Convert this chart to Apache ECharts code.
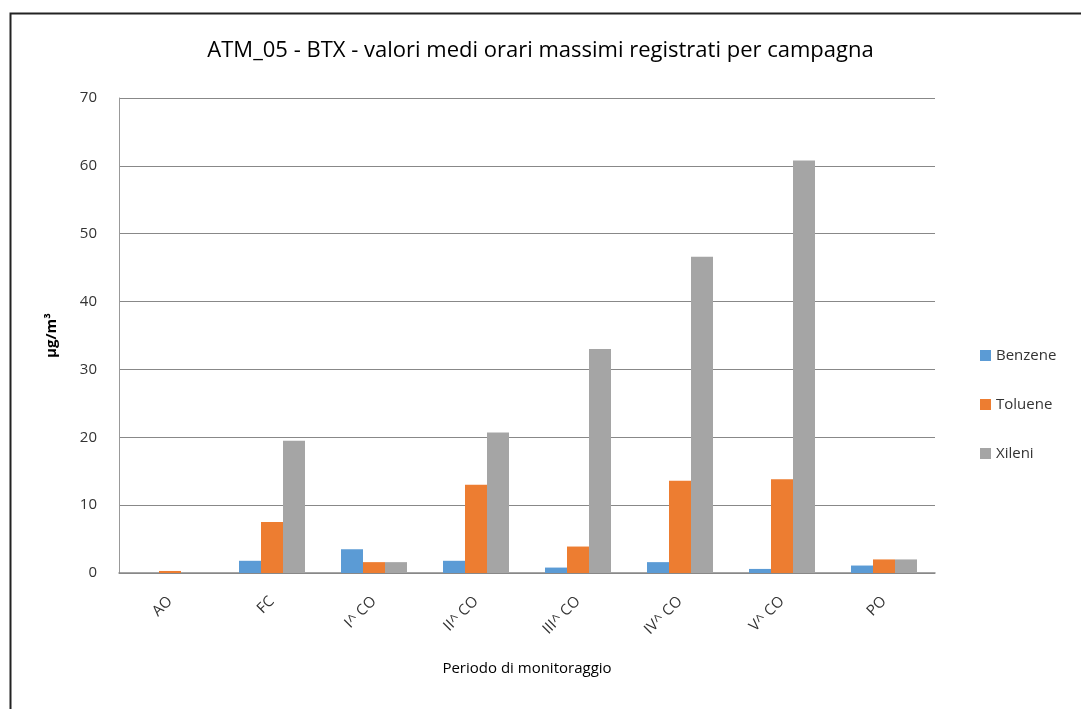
<!DOCTYPE html>
<html>
<head>
<meta charset="utf-8">
<script src="https://cdn.jsdelivr.net/npm/echarts@6/dist/echarts.min.js"></script>
<style>
  html, body { margin: 0; padding: 0; background: #fff; }
  #chart { width: 1081px; height: 709px; }
</style>
</head>
<body>
<div id="chart"></div>
<script>
// categorie (periodi di monitoraggio)
var categories = ['AO', 'FC', 'I^ CO', 'II^ CO', 'III^ CO', 'IV^ CO', 'V^ CO', 'PO'];
// valori, µg/m3
var benzene = [0, 1.8, 3.5, 1.8, 0.8, 1.6, 0.6, 1.1];
var toluene = [0.3, 7.5, 1.6, 13.0, 3.9, 13.6, 13.8, 2.0];
var xileni = [0, 19.5, 1.6, 20.7, 33.0, 46.6, 60.8, 2.0];
var yTicks = [0, 10, 20, 30, 40, 50, 60, 70];

var font = 'Open Sans';
var chart = echarts.init(document.getElementById('chart'));

chart.setOption({
    animation: false,
    textStyle: { fontFamily: font },
    title: {
        text: 'ATM_05 - BTX - valori medi orari massimi registrati per campagna',
        left: 'center',
        top: 35,
        textStyle: { fontSize: 22, fontWeight: 'normal', color: '#000', fontFamily: font }
    },
    graphic: [{
        type: 'rect',
        left: 8, top: 11,
        shape: { width: 1100, height: 720 },
        style: { fill: 'none', stroke: '#222', lineWidth: 2 }
    }],
    legend: {
        orient: 'vertical',
        left: 975,
        top: 343,
        itemWidth: 11,
        itemHeight: 11,
        itemGap: 34,
        icon: 'rect',
        textStyle: { fontSize: 15, color: '#333', fontFamily: font },
        data: ['Benzene', 'Toluene', 'Xileni']
    },
    grid: {
        left: 119,
        right: 146,
        top: 98,
        bottom: 136
    },
    xAxis: {
        type: 'category',
        data: categories,
        name: 'Periodo di monitoraggio',
        nameLocation: 'middle',
        nameGap: 88,
        nameTextStyle: { fontSize: 15, color: '#000', fontFamily: font },
        axisTick: { show: false },
        axisLine: { lineStyle: { color: '#888', width: 1.5 } },
        axisLabel: { rotate: 45, fontSize: 15, color: '#333', margin: 26 }
    },
    yAxis: {
        type: 'value',
        min: yTicks[0],
        max: yTicks[yTicks.length - 1],
        interval: 10,
        name: 'µg/m³',
        nameLocation: 'middle',
        nameGap: 60,
        nameTextStyle: { fontSize: 15, fontWeight: 'bold', color: '#000', fontFamily: font },
        axisLine: { show: true, lineStyle: { color: '#999' } },
        axisTick: { show: false },
        splitLine: { lineStyle: { color: '#888', width: 1.2 } },
        axisLabel: { fontSize: 15, color: '#333', margin: 22 }
    },
    series: [
        {
            name: 'Benzene',
            type: 'bar',
            barWidth: 22,
            barGap: '0%',
            itemStyle: { color: '#5b9bd5' },
            data: benzene
        },
        {
            name: 'Toluene',
            type: 'bar',
            barWidth: 22,
            barGap: '0%',
            itemStyle: { color: '#ed7d31' },
            data: toluene
        },
        {
            name: 'Xileni',
            type: 'bar',
            barWidth: 22,
            barGap: '0%',
            itemStyle: { color: '#a5a5a5' },
            data: xileni
        }
    ]
});
</script>
</body>
</html>
